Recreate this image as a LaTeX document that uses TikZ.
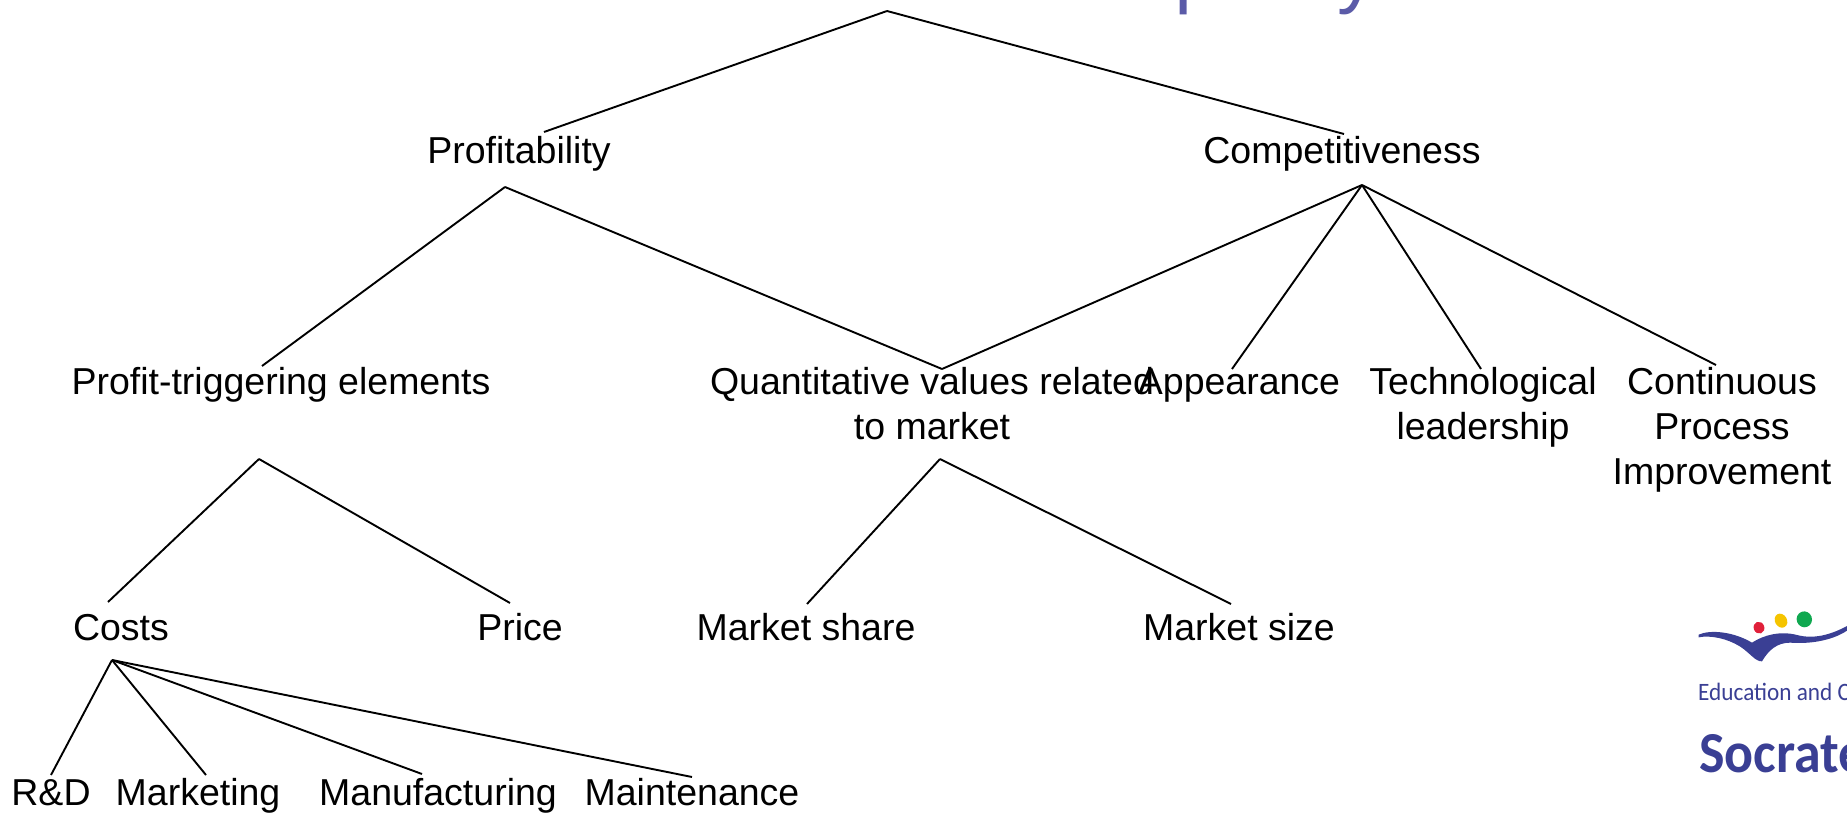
\documentclass[tikz,border=0pt]{standalone}
\usepackage{fontspec}
\setmainfont{Liberation Sans}
\newfontfamily\logofont[FakeStretch=0.93]{Carlito}
\newfontfamily\socfont[FakeStretch=0.93]{Carlito}
\definecolor{titleblue}{HTML}{5B5BA8}
\definecolor{logoblue}{HTML}{3A3F94}
\definecolor{logored}{HTML}{E0203A}
\definecolor{logoyellow}{HTML}{F5C400}
\definecolor{logogreen}{HTML}{10A850}
\tikzset{
  lbl/.style={inner sep=0pt,outer sep=0pt,anchor=base,align=center,font=\fontsize{37.5}{45}\selectfont,text=black},
  conn/.style={draw=black,line width=1.9pt},
}
\begin{document}
\begin{tikzpicture}[x=1pt,y=-1pt]
\useasboundingbox (0,0) rectangle (1847,813);
\clip (0,0) rectangle (1847,813);
\node[inner sep=0pt,anchor=base west,text=titleblue,font=\fontsize{79}{90}\selectfont] (title) at (1148,-1) {quality};
% labels (for several lines the base anchor is the last line)
\node[lbl] (prof) at (519,164) {Profitability};
\node[lbl] (comp) at (1342,164) {Competitiveness};
\node[lbl] (trig) at (281,394) {Profit-triggering elements};
\node[lbl] (quant) at (932,439) {Quantitative values related\\to market};
\node[lbl] (appe) at (1239,394) {Appearance};
\node[lbl] (tech) at (1483,439) {Technological\\leadership};
\node[lbl] (cont) at (1722,484) {Continuous\\Process\\Improvement};
\node[lbl] (costs) at (121,640) {Costs};
\node[lbl] (price) at (520,640) {Price};
\node[lbl] (share) at (806,640) {Market share};
\node[lbl] (size) at (1239,640) {Market size};
\node[lbl] (rd) at (51,805) {R\&D};
\node[lbl] (mkt) at (198,805) {Marketing};
\node[lbl] (manu) at (438,805) {Manufacturing};
\node[lbl] (main) at (692,805) {Maintenance};
% connector points
\coordinate (ptop) at (887,11);
\coordinate (pprof) at (505,187);
\coordinate (pcomp) at (1362,185);
\coordinate (ptrig) at (259,459);
\coordinate (pquant) at (940,459);
\coordinate (pcost) at (112,660);
\coordinate (eprof) at (544,132);
\coordinate (ecomp) at (1344,134);
\coordinate (etrig) at (262,366);
\coordinate (equant) at (942,369);
\coordinate (eappe) at (1232,369);
\coordinate (etech) at (1481,369);
\coordinate (econt) at (1716,365);
\coordinate (ecosts) at (108,602);
\coordinate (eprice) at (510,603);
\coordinate (eshare) at (807,604);
\coordinate (esize) at (1231,604);
\coordinate (erd) at (51,775);
\coordinate (emkt) at (206,775);
\coordinate (emanu) at (422,774);
\coordinate (emain) at (692,777);
\draw[conn] (ptop)--(eprof);
\draw[conn] (ptop)--(ecomp);
\draw[conn] (pprof)--(etrig);
\draw[conn] (pprof)--(equant);
\draw[conn] (pcomp)--(equant);
\draw[conn] (pcomp)--(eappe);
\draw[conn] (pcomp)--(etech);
\draw[conn] (pcomp)--(econt);
\draw[conn] (ptrig)--(ecosts);
\draw[conn] (ptrig)--(eprice);
\draw[conn] (pquant)--(eshare);
\draw[conn] (pquant)--(esize);
\draw[conn] (pcost)--(erd);
\draw[conn] (pcost)--(emkt);
\draw[conn] (pcost)--(emanu);
\draw[conn] (pcost)--(emain);
% logo
\begin{scope}[shift={(1647,600)},x=0.3333pt,y=-0.3333pt]
\fill[logoblue] (155,104) .. controls (190,88) and (260,95) .. (315,128)
  .. controls (350,105) and (400,92) .. (450,105)
  .. controls (500,118) and (550,105) .. (600,78) -- (600,92)
  .. controls (550,125) and (480,132) .. (430,128)
  .. controls (390,128) and (365,150) .. (345,184)
  .. controls (325,185) and (310,160) .. (280,140)
  .. controls (240,115) and (190,105) .. (155,112) -- cycle;
\fill[logored,rotate around={20:(336,83)}] (336,83) ellipse (16 and 18);
\fill[logoyellow,rotate around={30:(402,62)}] (402,62) ellipse (18 and 22);
\fill[logogreen,rotate around={20:(472,58)}] (472,58) ellipse (23 and 24);
\end{scope}
\node[inner sep=0pt,anchor=base west,text=logoblue,font=\logofont\fontsize{25}{28}\selectfont] (edu) at (1698,700) {Education and C};
\node[inner sep=0pt,anchor=base west,text=logoblue,font=\socfont\bfseries\fontsize{58}{60}\selectfont] (soc) at (1699,772) {Socrate};
\end{tikzpicture}
\end{document}
